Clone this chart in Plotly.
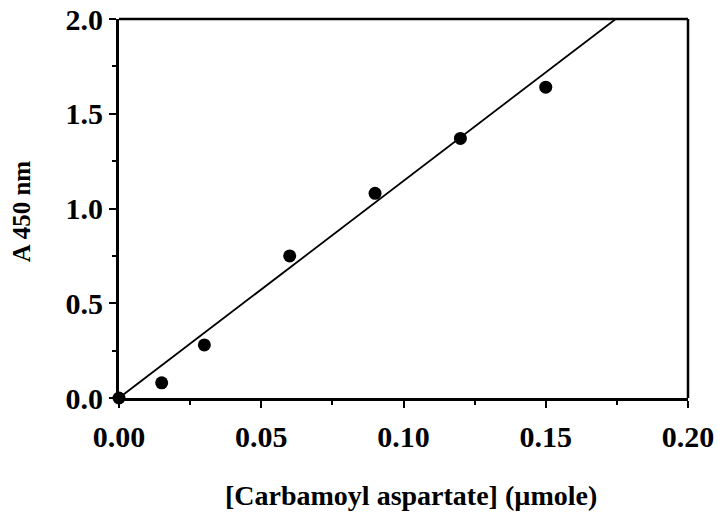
import plotly.graph_objects as go

# data
carbamoyl_umole = [0.0, 0.015, 0.03, 0.06, 0.09, 0.12, 0.15]
a450 = [0.0, 0.08, 0.28, 0.75, 1.08, 1.37, 1.64]
fit_x = [0.0, 0.1746]
fit_y = [0.0, 2.0]
x_ticks = [0.0, 0.05, 0.10, 0.15, 0.20]
y_ticks = [0.0, 0.5, 1.0, 1.5, 2.0]
x_title = "[Carbamoyl aspartate] (µmole)"
y_title = "A 450 nm"

font_family = "Liberation Serif, Times New Roman, serif"

fig = go.Figure()
fig.add_trace(go.Scatter(x=fit_x, y=fit_y, mode="lines",
                         line=dict(color="black", width=1.8),
                         showlegend=False, hoverinfo="skip"))
fig.add_trace(go.Scatter(x=carbamoyl_umole, y=a450, mode="markers",
                         marker=dict(color="black", size=13),
                         cliponaxis=False, showlegend=False))

axis_common = dict(
    showgrid=False, zeroline=False, showline=True, linecolor="black",
    linewidth=3, ticks="outside", ticklen=7, tickwidth=2, tickcolor="black",
    automargin=False,
    tickfont=dict(family=font_family, size=30, color="black", weight="bold"),
)

fig.update_xaxes(range=[0, 0.2], tickvals=x_ticks,
                 ticktext=[f"{v:.2f}" for v in x_ticks],
                 ticklabelstandoff=3,
                 minor=dict(dtick=0.025, tick0=0, ticks="outside", ticklen=4,
                            tickwidth=2, tickcolor="black"),
                 **axis_common)
fig.update_yaxes(range=[0, 2.0], tickvals=y_ticks,
                 ticktext=[f"{v:.1f}" for v in y_ticks],
                 minor=dict(dtick=0.25, tick0=0, ticks="outside", ticklen=4,
                            tickwidth=2, tickcolor="black"),
                 **axis_common)

# axis titles
fig.add_annotation(text=x_title, xref="paper", yref="paper", x=0.513, y=-0.256,
                   xanchor="center", yanchor="middle", showarrow=False,
                   font=dict(family=font_family, size=28, color="black", weight="bold"))
fig.add_annotation(text=y_title, xref="paper", yref="paper", x=-0.172, y=0.493,
                   xanchor="center", yanchor="middle", showarrow=False, textangle=-90,
                   font=dict(family=font_family, size=25, color="black", weight="bold"))

# top and right frame lines
fig.add_shape(type="line", xref="paper", yref="paper", x0=0, x1=1, y0=1, y1=1,
              line=dict(color="black", width=2.5))
fig.add_shape(type="line", xref="paper", yref="paper", x0=1, x1=1, y0=0, y1=1,
              line=dict(color="black", width=2.5))

fig.update_layout(width=718, height=517,
                  margin=dict(l=119, r=30, t=19, b=119),
                  plot_bgcolor="white", paper_bgcolor="white")

fig.write_html("out.html")
